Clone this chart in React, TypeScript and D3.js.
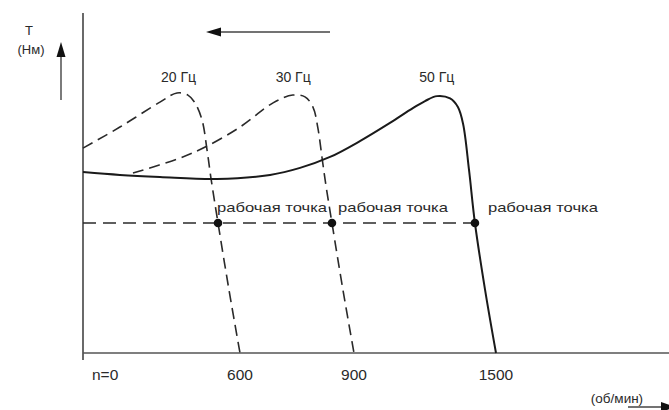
import React from "react";
import * as d3 from "d3";

const W = 669;
const H = 410;

// x ticks (об/мин)
const tickValues = [600, 900, 1500];
const tickLabels = ["600", "900", "1500"];

// Torque curves: [rpm, T] (T in relative units, 100 = peak)
const curve50: [number, number][] = [
  [0, 69.6], [141, 68.5], [294, 67.7], [512, 66.9], [679, 68.5], [758, 71.2],
  [837, 75.4], [925, 81.5], [1052, 88.5], [1137, 93.5], [1200, 96.9],
  [1251, 98.8], [1306, 97.9], [1339, 94.6], [1361, 88.1], [1386, 70.4],
  [1411, 50], [1454, 24.2], [1500, 0],
];
const curve20: [number, number][] = [
  [0, 78.8], [141, 86.9], [294, 96.5], [359, 100], [401, 99.2], [428, 96.2],
  [455, 89.6], [474, 78.1], [489, 67.3], [516, 50], [558, 24.2], [600, 0],
];
const curve30: [number, number][] = [
  [191, 69.2], [371, 75], [467, 79.2], [600, 86.9], [687, 96.2], [739, 99.2],
  [771, 98.5], [792, 94.6], [805, 86.5], [816, 75], [826, 64.6], [842, 50],
  [871, 24.2], [900, 0],
];
const curveLabels = ["20 Гц", "30 Гц", "50 Гц"];
const curveLabelRpm = [365, 740, 1250];

const workingTorque = 50;
const workingPoints = [516, 842, 1411];
const workingLabel = "рабочая точка";

export default function App() {
  const x = d3
    .scaleLinear()
    .domain([0, 600, 900, 1500])
    .range([83, 240, 354, 496]);
  const y = d3.scaleLinear().domain([0, 100]).range([353, 93]);

  const line = d3
    .line<[number, number]>()
    .x((d) => x(d[0]))
    .y((d) => y(d[1]))
    .curve(d3.curveCatmullRom.alpha(0.5));

  const font = "'Liberation Sans', Arial, sans-serif";
  const ink = "#2a2a2a";
  const labelOffsets = [-1, 6, 13];

  return (
    <svg
      width={W}
      height={H}
      style={{ position: "absolute", left: 0, top: 0, background: "#fff" }}
      fontFamily={font}
    >
      {/* axes */}
      <line x1={x(0)} y1={13} x2={x(0)} y2={360} stroke="#444" strokeWidth={1.6} />
      <line x1={x(0)} y1={y(0)} x2={W} y2={y(0)} stroke="#555" strokeWidth={1.5} />

      {/* y axis title & arrow */}
      <text x={29} y={35} fontSize={13} textAnchor="middle" fill={ink}>T</text>
      <text x={31} y={54} fontSize={13} textAnchor="middle" fill={ink}>(Нм)</text>
      <line x1={61} y1={100} x2={61} y2={52} stroke="#444" strokeWidth={1.4} />
      <path d="M61,42 L65.5,57 L56.5,57 Z" fill="#111" />

      {/* top direction arrow */}
      <line x1={330} y1={32} x2={215} y2={32} stroke="#444" strokeWidth={1.4} />
      <path d="M206,32 L221,27.5 L221,36.5 Z" fill="#111" />

      {/* bottom right arrow */}
      <line x1={628} y1={407} x2={662} y2={407} stroke="#444" strokeWidth={1.4} />
      <path d="M676,407 L661,402 L661,412 Z" fill="#111" />

      {/* curves */}
      <path d={line(curve20) || ""} fill="none" stroke={ink} strokeWidth={1.6} strokeDasharray="11,6" />
      <path d={line(curve30) || ""} fill="none" stroke={ink} strokeWidth={1.6} strokeDasharray="11,6" />
      <path d={line(curve50) || ""} fill="none" stroke="#1a1a1a" strokeWidth={2} />

      {/* working line */}
      <line
        x1={x(0)}
        y1={y(workingTorque)}
        x2={x(workingPoints[2])}
        y2={y(workingTorque)}
        stroke={ink}
        strokeWidth={1.4}
        strokeDasharray="13,7"
      />
      {workingPoints.map((p, i) => (
        <g key={i}>
          <circle cx={x(p)} cy={y(workingTorque)} r={4.3} fill="#111" />
          <text
            x={x(p) + labelOffsets[i]}
            y={212}
            fontSize={13.5}
            fill={ink}
            textLength={110}
            lengthAdjust="spacingAndGlyphs"
          >
            {workingLabel}
          </text>
        </g>
      ))}

      {/* curve labels */}
      {curveLabels.map((l, i) => (
        <text
          key={l}
          x={x(curveLabelRpm[i])}
          y={82}
          fontSize={14}
          textAnchor="middle"
          fill={ink}
        >
          {l}
        </text>
      ))}

      {/* x ticks */}
      <text x={92} y={380} fontSize={15.5} fill={ink}>n=0</text>
      {tickValues.map((v, i) => (
        <text key={v} x={x(v)} y={380} fontSize={15.5} textAnchor="middle" fill={ink}>
          {tickLabels[i]}
        </text>
      ))}
      <text x={617} y={403} fontSize={13.5} textAnchor="middle" fill={ink}>(об/мин)</text>
    </svg>
  );
}
